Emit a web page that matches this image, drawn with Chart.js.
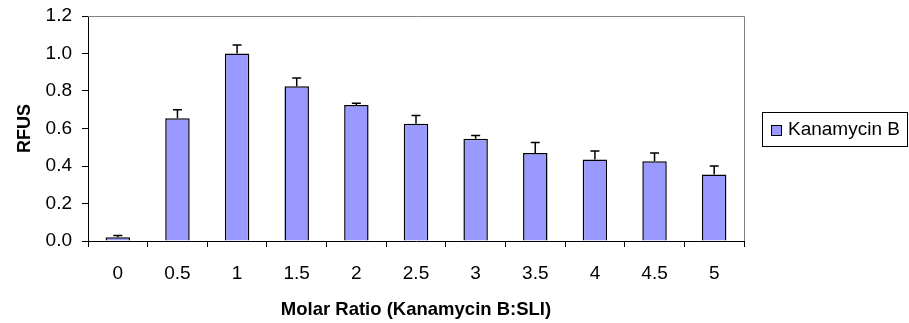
<!DOCTYPE html>
<html>
<head>
<meta charset="utf-8">
<script src="https://cdn.jsdelivr.net/npm/chart.js@4"></script>
<style>
  html, body { margin: 0; padding: 0; background: #fff; }
  #wrap { width: 909px; height: 323px; }
</style>
</head>
<body>
<div id="wrap"><canvas id="chart" width="909" height="323"></canvas></div>
<script>
// molar ratio categories (Kanamycin B : SLI)
const ratios = ['0', '0.5', '1', '1.5', '2', '2.5', '3', '3.5', '4', '4.5', '5'];
// mean RFUS per ratio
const rfus = [0.02, 0.655, 1.0, 0.825, 0.725, 0.625, 0.545, 0.47, 0.435, 0.425, 0.355];
// upper error (SD) per ratio
const errUp = [0.01, 0.045, 0.045, 0.045, 0.01, 0.045, 0.018, 0.055, 0.045, 0.045, 0.045];
const yTicks = [0, 0.2, 0.4, 0.6, 0.8, 1.0, 1.2];
const seriesName = 'Kanamycin B';

const FONT = "'Liberation Sans', Arial, sans-serif";
const BAR_COLOR = '#9999ff';

// upper-only error bars with a cap
const errorBars = {
  id: 'errorBars',
  afterDatasetsDraw(chart) {
    const { ctx, scales: { y } } = chart;
    const meta = chart.getDatasetMeta(0);
    ctx.save();
    ctx.strokeStyle = '#000';
    ctx.lineWidth = 1.5;
    meta.data.forEach((bar, i) => {
      const top = y.getPixelForValue(rfus[i] + errUp[i]);
      const base = y.getPixelForValue(rfus[i]);
      ctx.beginPath();
      ctx.moveTo(bar.x, base);
      ctx.lineTo(bar.x, top);
      ctx.moveTo(bar.x - 4.5, top);
      ctx.lineTo(bar.x + 4.5, top);
      ctx.stroke();
    });
    ctx.restore();
  }
};

// grey top/right frame of the plot area
const plotFrame = {
  id: 'plotFrame',
  beforeDatasetsDraw(chart) {
    const { ctx, chartArea: a } = chart;
    ctx.save();
    ctx.strokeStyle = '#808080';
    ctx.lineWidth = 1;
    ctx.beginPath();
    ctx.moveTo(a.left, a.top + 0.5);
    ctx.lineTo(a.right + 0.5, a.top + 0.5);
    ctx.lineTo(a.right + 0.5, a.bottom);
    ctx.stroke();
    ctx.restore();
  }
};

// boxed legend at the right
const boxLegend = {
  id: 'boxLegend',
  afterDraw(chart) {
    const { ctx } = chart;
    ctx.save();
    ctx.strokeStyle = '#000';
    ctx.lineWidth = 1;
    ctx.strokeRect(762.5, 112.5, 145, 34);
    ctx.fillStyle = BAR_COLOR;
    ctx.fillRect(771, 125, 10, 10);
    ctx.strokeRect(771.5, 125.5, 10, 10);
    ctx.fillStyle = '#000';
    ctx.font = '19px ' + FONT;
    ctx.textBaseline = 'middle';
    ctx.fillText(seriesName, 788, 130);
    ctx.restore();
  }
};

new Chart(document.getElementById('chart'), {
  type: 'bar',
  data: {
    labels: ratios,
    datasets: [{
      label: seriesName,
      data: rfus,
      backgroundColor: BAR_COLOR,
      borderColor: '#000',
      borderWidth: 1.5,
      barPercentage: 0.41,
      categoryPercentage: 1.0,
    }]
  },
  options: {
    responsive: false,
    animation: false,
    layout: { padding: { top: 16, right: 165, left: 0, bottom: 0 } },
    plugins: { legend: { display: false }, tooltip: { enabled: false } },
    scales: {
      x: {
        grid: { display: true, drawOnChartArea: false, drawTicks: true, tickLength: 6, color: '#000', offset: true },
        border: { display: true, color: '#000', width: 1 },
        ticks: { color: '#000', font: { family: FONT, size: 19 }, padding: 15, maxRotation: 0, autoSkip: false },
        title: { display: true, text: 'Molar Ratio (Kanamycin B:SLI)', color: '#000',
          font: { family: FONT, size: 18.5, weight: 'bold' }, padding: { top: 0, bottom: 2 } },
        afterFit: s => { s.height = 82; s.paddingLeft = 0; s.paddingRight = 0; }
      },
      y: {
        min: 0, max: 1.2,
        afterBuildTicks: s => { s.ticks = yTicks.map(v => ({ value: v })); },
        grid: { display: true, drawOnChartArea: false, drawTicks: true, tickLength: 6, color: '#000' },
        border: { display: true, color: '#000', width: 1 },
        ticks: { color: '#000', font: { family: FONT, size: 19 }, padding: 10,
          callback: v => Number(v).toFixed(1) },
        title: { display: true, text: 'RFUS', color: '#000',
          font: { family: FONT, size: 18, weight: 'bold' }, padding: { top: 14, bottom: 0 } },
        afterFit: s => { s.width = 88; s.paddingTop = 0; s.paddingBottom = 0; }
      }
    }
  },
  plugins: [plotFrame, errorBars, boxLegend]
});
</script>
</body>
</html>
